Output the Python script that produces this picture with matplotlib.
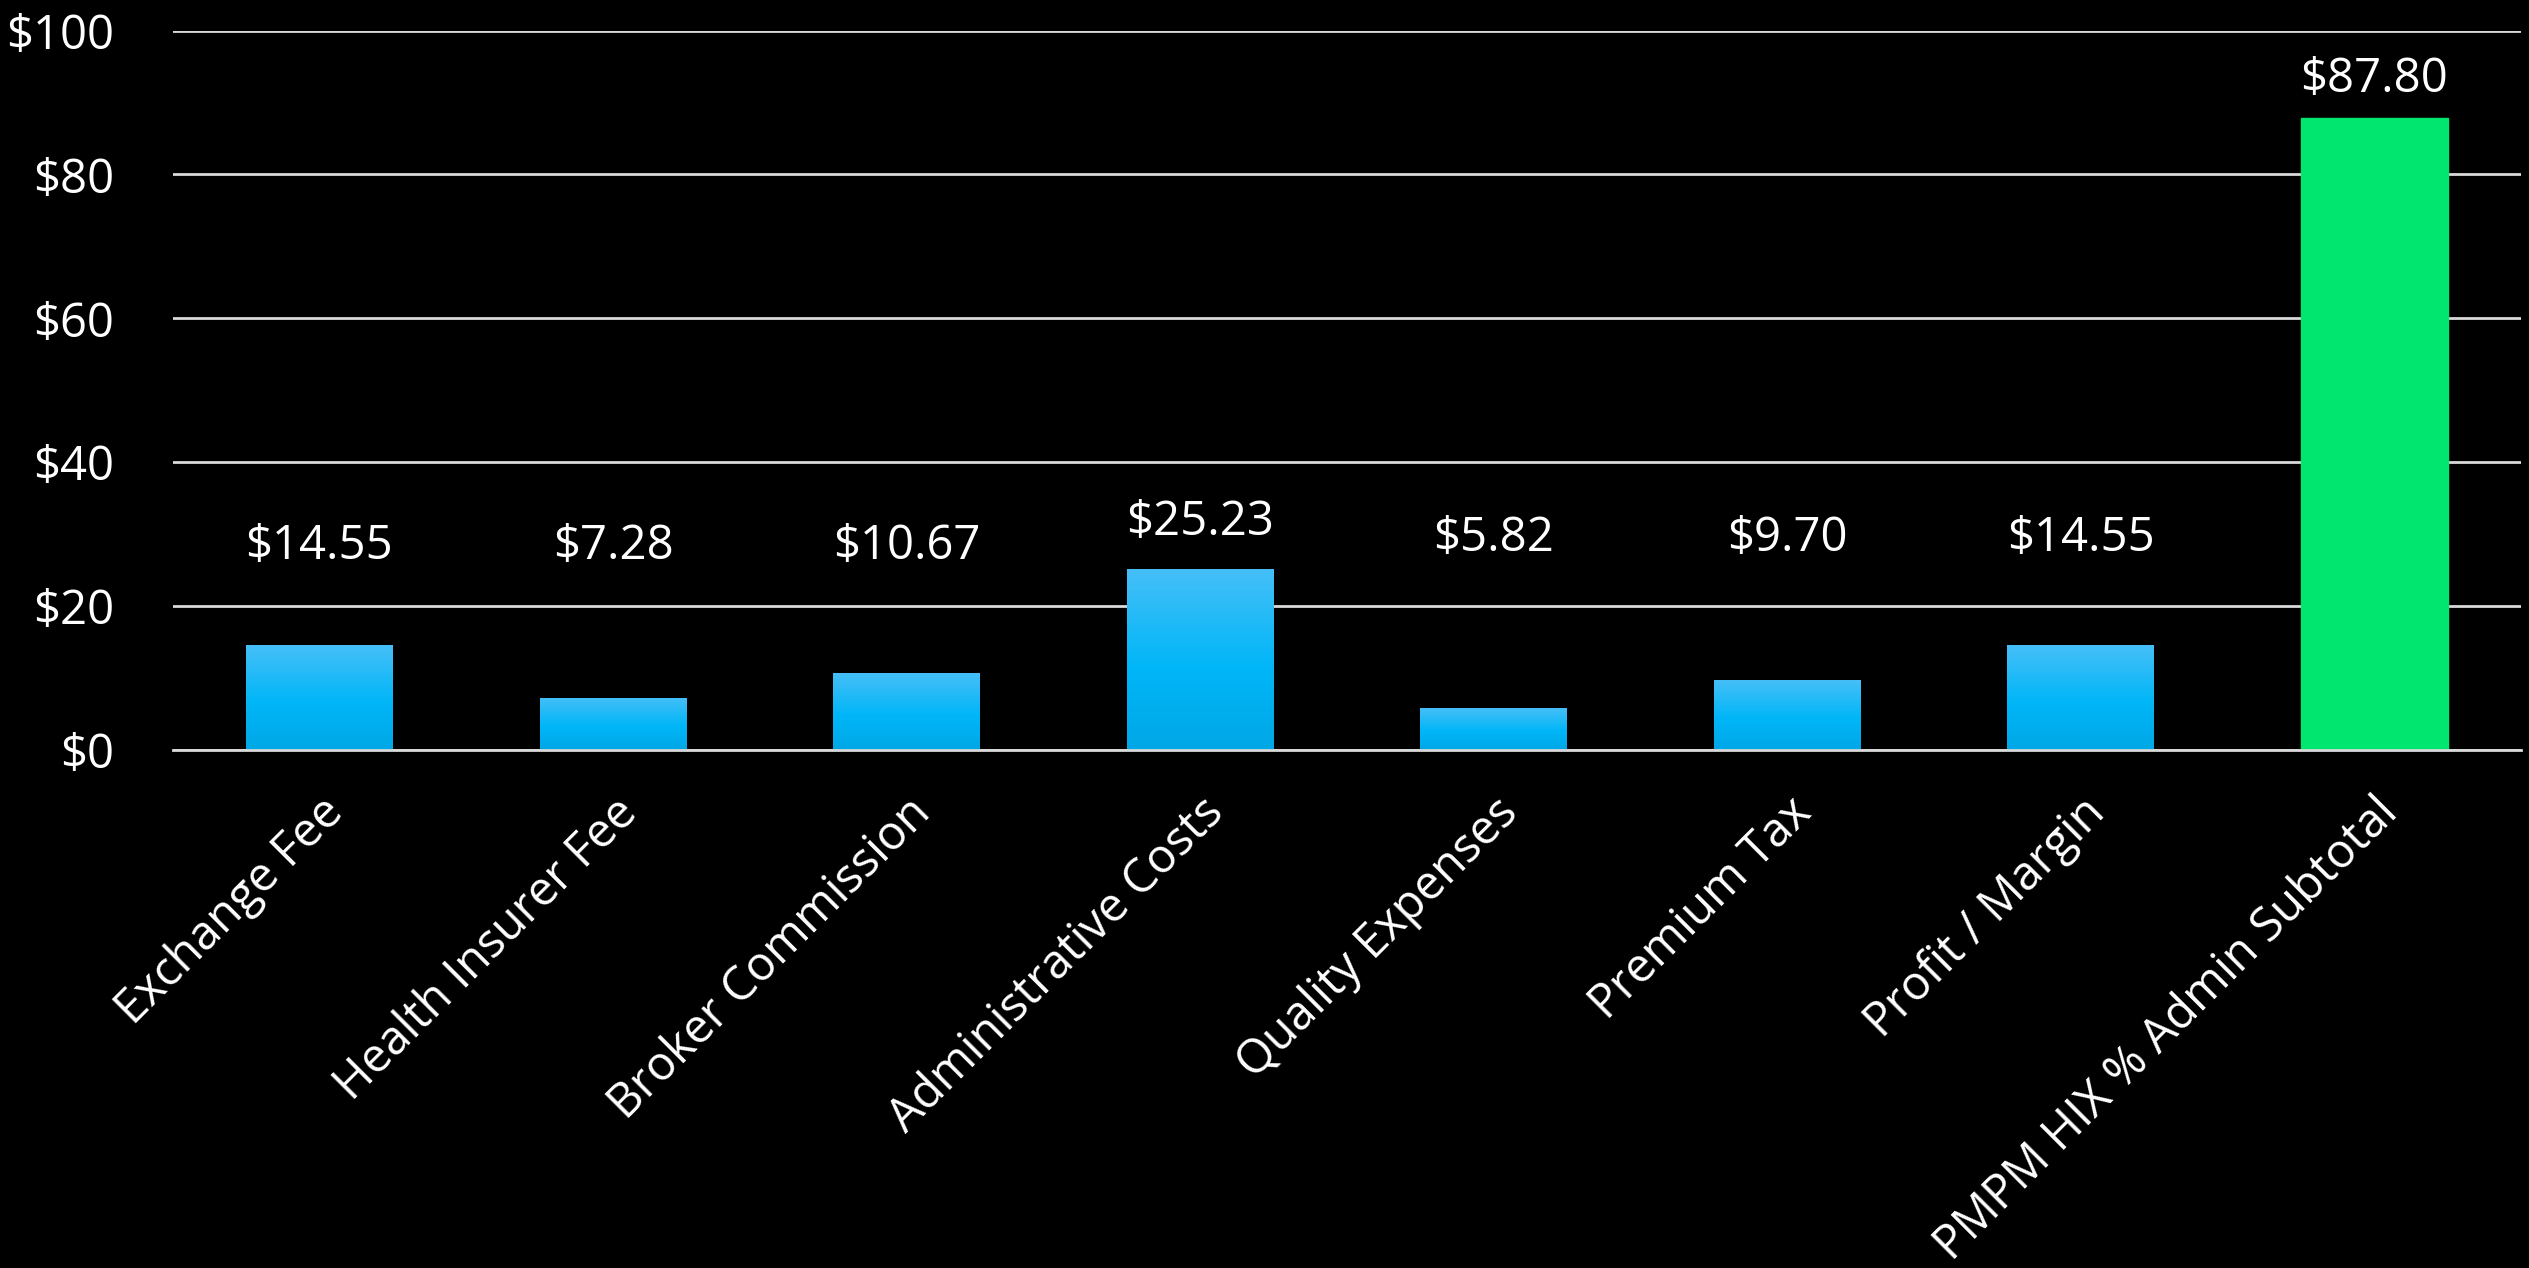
import matplotlib
matplotlib.use("Agg")
import matplotlib.pyplot as plt
import numpy as np
from matplotlib.colors import LinearSegmentedColormap

categories = ["Exchange Fee", "Health Insurer Fee", "Broker Commission",
              "Administrative Costs", "Quality Expenses", "Premium Tax",
              "Profit / Margin", "PMPM HIX % Admin Subtotal"]
values = [14.55, 7.28, 10.67, 25.23, 5.82, 9.70, 14.55, 87.80]
value_labels = ["$14.55", "$7.28", "$10.67", "$25.23", "$5.82", "$9.70",
                "$14.55", "$87.80"]
y_ticks = [0, 20, 40, 60, 80, 100]
y_tick_labels = ["$0", "$20", "$40", "$60", "$80", "$100"]

# where the value labels sit (data units)
label_pos = [28.3, 28.3, 28.3, 31.6, 29.5, 29.5, 29.5, 93.2]

plt.rcParams["font.family"] = ["Open Sans", "DejaVu Sans"]

fig = plt.figure(figsize=(25.29, 12.68), dpi=100, facecolor="black")
ax = fig.add_axes([0.0683, 0.4085, 0.9285, 0.5674])
ax.set_facecolor("black")

blue = LinearSegmentedColormap.from_list(
    "blue", [(0.0, "#00A7E6"), (0.45, "#00B6F8"), (1.0, "#46BFF7")])
grad = np.linspace(0, 1, 256).reshape(-1, 1)

x = np.arange(len(categories))
bars = ax.bar(x, values, width=0.5, zorder=2)
for i, bar in enumerate(bars):
    if i == len(bars) - 1:
        bar.set_color("#00E66E")
        continue
    bar.set_facecolor("none")
    bar.set_edgecolor("none")
    x0, w, h = bar.get_x(), bar.get_width(), bar.get_height()
    im = ax.imshow(grad, cmap=blue, origin="lower", aspect="auto",
                   extent=[x0, x0 + w, 0, h], zorder=2)
    im.set_clip_path(bar)

for i, lab in enumerate(value_labels):
    ax.text(x[i], label_pos[i], lab, color="white", fontsize=34,
            ha="center", va="center")

ax.set_xlim(-0.5, len(categories) - 0.5)
ax.set_ylim(0, 100)
ax.set_yticks(y_ticks)
ax.set_yticklabels(y_tick_labels)
ax.yaxis.grid(True, color="#D9D9D9", linewidth=2, zorder=1)
ax.set_axisbelow(True)
ax.tick_params(axis="y", length=0, pad=42, labelsize=34, labelcolor="white")
ax.set_xticks(x)
ax.set_xticklabels(categories, rotation=45, ha="right",
                   rotation_mode="anchor")
ax.tick_params(axis="x", length=0, pad=28, labelsize=34, labelcolor="white")
for side in ["top", "right", "left"]:
    ax.spines[side].set_visible(False)
ax.spines["bottom"].set_color("#D9D9D9")
ax.spines["bottom"].set_linewidth(2)

fig.savefig("out.png", dpi=100, facecolor="black")
